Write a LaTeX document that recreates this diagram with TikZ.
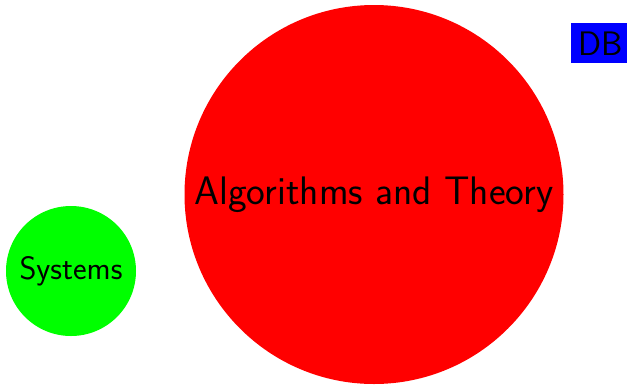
\documentclass[tikz,border=0pt]{standalone}
\usepackage{tikz}

\tikzset{
  topic/.style={circle, inner sep=0pt, font=\sffamily},
  tag/.style={rectangle, inner sep=0pt, font=\sffamily}
}

\begin{document}
\begin{tikzpicture}[x=1pt, y=1pt]
  \useasboundingbox (0,0) rectangle (627,-384);
  \clip (0,0) rectangle (627,-384);

  \node[topic, fill=red, minimum size=379pt, font=\sffamily\fontsize{39.8}{42}\selectfont] (algo) at (374,-194.5) {Algorithms and Theory};
  \node[topic, fill=green, minimum size=130pt, font=\sffamily\fontsize{32.4}{35}\selectfont] (sys) at (71,-271) {Systems};
  \node[tag, fill=blue, minimum width=60pt, minimum height=40pt, font=\sffamily\fontsize{34}{36}\selectfont] (db) at (601,-43.3) {DB};
\end{tikzpicture}
\end{document}
